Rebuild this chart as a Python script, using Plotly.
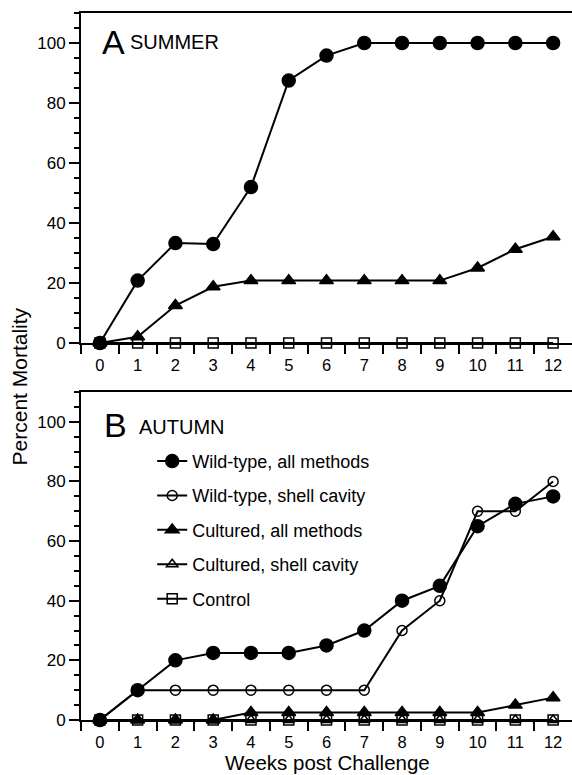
import plotly.graph_objects as go

weeks = list(range(13))

# Panel A (summer)
sum_wild_all = [0, 20.8, 33.3, 33.0, 52.0, 87.5, 95.8, 100, 100, 100, 100, 100, 100]
sum_cult_all = [0, 2.1, 12.5, 18.75, 20.8, 20.8, 20.8, 20.8, 20.8, 20.8, 25.0, 31.25, 35.4]
sum_control = [0] * 13

# Panel B (autumn)
aut_wild_all = [0, 10, 20, 22.5, 22.5, 22.5, 25, 30, 40, 45, 65, 72.5, 75]
aut_wild_shell = [0, 10, 10, 10, 10, 10, 10, 10, 30, 40, 70, 70, 80]
aut_cult_all = [0, 0, 0, 0, 2.5, 2.5, 2.5, 2.5, 2.5, 2.5, 2.5, 5, 7.5]
aut_cult_shell = [0] * 13
aut_control = [0] * 13

names = ["Wild-type, all methods", "Wild-type, shell cavity", "Cultured, all methods",
         "Cultured, shell cavity", "Control"]

FONT = "Liberation Sans, Arial, sans-serif"
LW = 2

def tr(y, name, symbol, size, xa, ya, show):
    return go.Scatter(
        x=weeks, y=y, name=name, mode="lines+markers",
        line=dict(color="black", width=LW),
        marker=dict(symbol=symbol, size=size, color="black",
                    line=dict(color="black", width=1.5)),
        xaxis=xa, yaxis=ya, cliponaxis=False, showlegend=show,
        legendgroup=name,
    )

fig = go.Figure()
# top panel
fig.add_trace(tr(sum_control, names[4], "square-open", 10, "x", "y", False))
fig.add_trace(tr(sum_cult_all, names[2], "triangle-up", 12, "x", "y", False))
fig.add_trace(tr(sum_wild_all, names[0], "circle", 13, "x", "y", False))
# bottom panel (legend order)
fig.add_trace(tr(aut_wild_all, names[0], "circle", 13, "x2", "y2", True))
fig.add_trace(tr(aut_wild_shell, names[1], "circle-open", 10, "x2", "y2", True))
fig.add_trace(tr(aut_cult_all, names[2], "triangle-up", 12, "x2", "y2", True))
fig.add_trace(tr(aut_cult_shell, names[3], "triangle-up-open", 10, "x2", "y2", True))
fig.add_trace(tr(aut_control, names[4], "square-open", 10, "x2", "y2", True))

xaxis_common = dict(
    range=[-0.5, 12.5], tickvals=weeks, ticktext=[str(w) for w in weeks],
    ticks="outside", ticklen=6, tickcolor="rgba(0,0,0,0)",
    showline=True, linewidth=2, linecolor="black", mirror=True,
    showgrid=False, zeroline=False,
    tickfont=dict(family=FONT, size=16.5, color="black"),
    minor=dict(tickvals=[i + 0.5 for i in range(-1, 12)], ticks="outside",
               ticklen=9, tickwidth=1.5, tickcolor="black", showgrid=False),
)
yticks = [0, 20, 40, 60, 80, 100]
yminor = [v for v in range(5, 111, 5) if v not in yticks]
yaxis_common = dict(
    range=[0, 110], tickvals=yticks, ticks="outside", ticklen=10, tickwidth=1.5,
    tickcolor="black", showline=True, linewidth=2, linecolor="black", mirror=False,
    showgrid=False, zeroline=False,
    tickfont=dict(family=FONT, size=17, color="black"),
    minor=dict(tickvals=yminor, ticks="outside", ticklen=5, tickwidth=1.5,
               tickcolor="black", showgrid=False),
)

fig.update_layout(
    width=572, height=775,
    margin=dict(l=81, r=0, t=13, b=55),
    paper_bgcolor="white", plot_bgcolor="white",
    font=dict(family=FONT, color="black"),
    xaxis=dict(domain=[0, 1], anchor="y", **xaxis_common),
    yaxis=dict(domain=[0.5332, 1], anchor="x", **yaxis_common),
    xaxis2=dict(domain=[0, 1], anchor="y2", **xaxis_common),
    yaxis2=dict(domain=[0, 0.4639], anchor="x2", **yaxis_common),
    showlegend=True,
    legend=dict(x=0.145, xanchor="left", y=0.392, yanchor="top",
                font=dict(family=FONT, size=18, color="black"),
                bgcolor="rgba(0,0,0,0)", tracegroupgap=8,
                traceorder="grouped"),
    annotations=[
        dict(text="A", x=0, y=100.2, xref="x", yref="y", xanchor="left", yanchor="middle",
             showarrow=False, font=dict(family=FONT, size=34, color="black")),
        dict(text="SUMMER", x=0.75, y=100.3, xref="x", yref="y", xanchor="left", yanchor="middle",
             showarrow=False, font=dict(family=FONT, size=20, color="black")),
        dict(text="B", x=0.05, y=99, xref="x2", yref="y2", xanchor="left", yanchor="middle",
             showarrow=False, font=dict(family=FONT, size=34, color="black")),
        dict(text="AUTUMN", x=0.98, y=98.3, xref="x2", yref="y2", xanchor="left", yanchor="middle",
             showarrow=False, font=dict(family=FONT, size=20, color="black")),
        dict(text="Weeks post Challenge", x=0.502, y=-0.0775, xref="paper", yref="paper",
             xanchor="center", yanchor="bottom", showarrow=False, borderpad=0,
             font=dict(family=FONT, size=20.5, color="black")),
        dict(text="Percent Mortality", x=-0.126, y=0.472, xref="paper", yref="paper",
             xanchor="center", yanchor="middle", textangle=-90, showarrow=False,
             font=dict(family=FONT, size=21, color="black")),
    ],
)

fig.write_html("out.html")
